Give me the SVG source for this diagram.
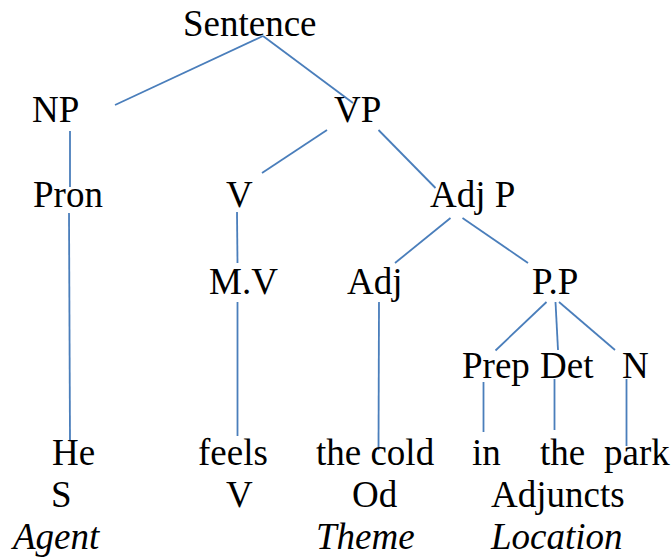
<svg xmlns="http://www.w3.org/2000/svg" width="672" height="558" viewBox="0 0 672 558">
<style>
text{font-family:'Liberation Serif',Tinos,'Times New Roman','DejaVu Serif',serif;font-size:37px;fill:#000}
.it{font-style:italic}
.c line{stroke:#4a7ebb;stroke-width:1.8;fill:none}
</style>
<rect width="672" height="558" fill="#fff"/>
<g class="c" id="connectors">
<line x1="263" y1="36" x2="115" y2="105"/>
<line x1="263" y1="36" x2="353" y2="103"/>
<line x1="70" y1="131" x2="70" y2="187"/>
<line x1="69" y1="213" x2="70" y2="440"/>
<line x1="327" y1="130" x2="262" y2="173"/>
<line x1="378.5" y1="130" x2="435.5" y2="188"/>
<line x1="237" y1="212" x2="237.5" y2="263"/>
<line x1="450.5" y1="218" x2="395" y2="263"/>
<line x1="462.5" y1="218" x2="528" y2="263"/>
<line x1="237.5" y1="302" x2="237.5" y2="436"/>
<line x1="379" y1="302" x2="378.5" y2="450"/>
<line x1="546.5" y1="302" x2="495.5" y2="350.5"/>
<line x1="555.5" y1="302" x2="558" y2="350"/>
<line x1="559" y1="302" x2="615" y2="350"/>
<line x1="483.5" y1="382" x2="483.5" y2="432"/>
<line x1="554.5" y1="379" x2="554.5" y2="430"/>
<line x1="626.5" y1="379" x2="626.5" y2="446"/>
</g>
<g id="sentence"><text x="183" y="36" font-family="Liberation Serif">Sentence</text></g>
<g id="np"><text x="32" y="122">NP</text></g>
<g id="vp"><text x="334" y="122">VP</text></g>
<g id="pron"><text x="33" y="207">Pron</text></g>
<g id="v"><text x="226" y="207">V</text></g>
<g id="adjp"><text x="430" y="207">Adj P</text></g>
<g id="mv"><text x="209" y="294">M.V</text></g>
<g id="adj"><text x="347" y="294">Adj</text></g>
<g id="pp"><text x="532" y="294">P.P</text></g>
<g id="prep"><text x="462" y="378">Prep</text></g>
<g id="det"><text x="540" y="378">Det</text></g>
<g id="n"><text x="622" y="378">N</text></g>
<g id="he"><text x="52" y="465">He</text></g>
<g id="feels"><text x="198" y="465">feels</text></g>
<g id="thecold"><text x="316" y="465">the cold</text></g>
<g id="in"><text x="472" y="465">in</text></g>
<g id="the"><text x="540" y="465">the</text></g>
<g id="park"><text x="604" y="465">park</text></g>
<g id="s"><text x="51" y="507">S</text></g>
<g id="v2"><text x="226" y="507">V</text></g>
<g id="od"><text x="352" y="507">Od</text></g>
<g id="adjuncts"><text x="491" y="507">Adjuncts</text></g>
<g id="agent"><text class="it" x="13" y="549">Agent</text></g>
<g id="theme"><text class="it" x="316" y="549">Theme</text></g>
<g id="location"><text class="it" x="491" y="549">Location</text></g>
</svg>
